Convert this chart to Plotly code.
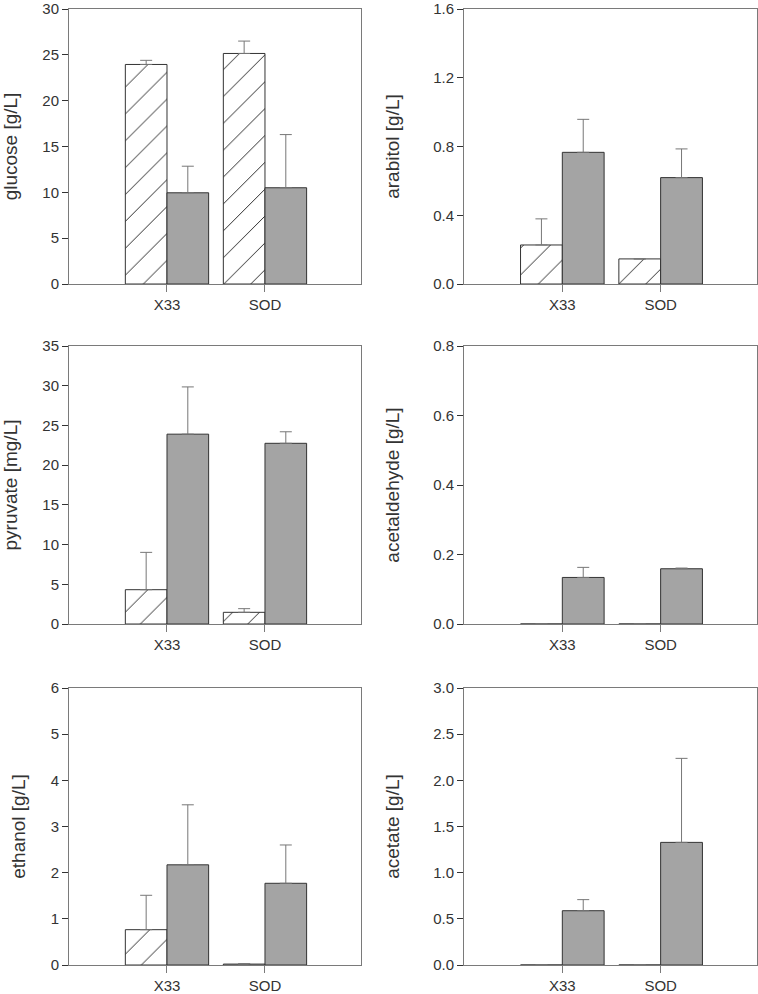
import plotly.graph_objects as go
from plotly.subplots import make_subplots

strains = ['X33', 'SOD']

# hatched bars (first series) and grey bars (second series), upper error only
glucose_a = [23.95, 25.15]
glucose_a_err = [0.45, 1.35]
glucose_b = [9.95, 10.5]
glucose_b_err = [2.9, 5.8]

arabitol_a = [0.227, 0.146]
arabitol_a_err = [0.152, 0.0]
arabitol_b = [0.766, 0.619]
arabitol_b_err = [0.192, 0.167]

pyruvate_a = [4.32, 1.47]
pyruvate_a_err = [4.7, 0.46]
pyruvate_b = [23.9, 22.75]
pyruvate_b_err = [5.95, 1.45]

acetaldehyde_a = [0.0, 0.0]
acetaldehyde_a_err = [0.0, 0.0]
acetaldehyde_b = [0.134, 0.159]
acetaldehyde_b_err = [0.029, 0.002]

ethanol_a = [0.765, 0.02]
ethanol_a_err = [0.745, 0.01]
ethanol_b = [2.17, 1.77]
ethanol_b_err = [1.3, 0.83]

acetate_a = [0.0, 0.0]
acetate_a_err = [0.0, 0.0]
acetate_b = [0.588, 1.328]
acetate_b_err = [0.12, 0.91]

panels = [
    ('glucose [g/L]', glucose_a, glucose_a_err, glucose_b, glucose_b_err, 30, 5, 'd'),
    ('arabitol [g/L]', arabitol_a, arabitol_a_err, arabitol_b, arabitol_b_err, 1.6, 0.4, '.1f'),
    ('pyruvate [mg/L]', pyruvate_a, pyruvate_a_err, pyruvate_b, pyruvate_b_err, 35, 5, 'd'),
    ('acetaldehyde [g/L]', acetaldehyde_a, acetaldehyde_a_err, acetaldehyde_b, acetaldehyde_b_err, 0.8, 0.2, '.1f'),
    ('ethanol [g/L]', ethanol_a, ethanol_a_err, ethanol_b, ethanol_b_err, 6, 1, 'd'),
    ('acetate [g/L]', acetate_a, acetate_a_err, acetate_b, acetate_b_err, 3.0, 0.5, '.1f'),
]

W, H = 758, 994
xdom = [[69 / W, 361 / W], [464 / W, 757 / W]]
ydom = [[1 - 284 / H, 1 - 9 / H], [1 - 624 / H, 1 - 346 / H], [1 - 965 / H, 1 - 688 / H]]
standoffs = [20, 28]

fig = make_subplots(rows=3, cols=2)

axcol = '#7a7a7a'
txtcol = '#333333'
errcol = '#777777'

for i, (title, a, aerr, b, berr, ymax, dt, fmt) in enumerate(panels):
    r = i // 2 + 1
    c = i % 2 + 1
    fig.add_trace(go.Bar(
        x=strains, y=a,
        marker=dict(color='white', line=dict(color='#333333', width=1),
                    pattern=dict(shape='/', fgcolor='#222222', bgcolor='white',
                                 fgopacity=1, size=19, solidity=0.05)),
        error_y=dict(type='data', symmetric=False, array=aerr,
                     arrayminus=[0] * len(aerr), color=errcol,
                     thickness=1, width=6),
        showlegend=False), row=r, col=c)
    fig.add_trace(go.Bar(
        x=strains, y=b,
        marker=dict(color='#a4a4a4', line=dict(color='#333333', width=1)),
        error_y=dict(type='data', symmetric=False, array=berr,
                     arrayminus=[0] * len(berr), color=errcol,
                     thickness=1, width=6),
        showlegend=False), row=r, col=c)
    fig.update_xaxes(domain=xdom[c - 1], range=[-1.0, 1.98], automargin=False,
                     showline=True, mirror=True, linecolor=axcol, linewidth=1,
                     ticks='outside', ticklen=7, tickcolor=axcol,
                     ticklabeloverflow='allow',
                     showgrid=False, zeroline=False,
                     tickfont=dict(size=15, color=txtcol),
                     row=r, col=c)
    fig.update_yaxes(domain=ydom[r - 1], range=[0, ymax], dtick=dt, tick0=0,
                     tickformat=fmt, automargin=False,
                     ticklabeloverflow='allow',
                     showline=True, mirror=True, linecolor=axcol, linewidth=1,
                     ticks='outside', ticklen=6, tickcolor=txtcol,
                     showgrid=False, zeroline=False,
                     tickfont=dict(size=15, color=txtcol),
                     title=dict(text=title, font=dict(size=19, color=txtcol),
                                standoff=standoffs[c - 1]),
                     row=r, col=c)

fig.update_layout(
    width=W, height=H,
    margin=dict(l=0, r=0, t=0, b=0),
    barmode='group', bargap=0.15, bargroupgap=0,
    plot_bgcolor='white', paper_bgcolor='white',
    font=dict(family='Liberation Sans, Arial, sans-serif', color=txtcol),
)

fig.write_html("out.html", config={'displayModeBar': False},
               post_script="document.body.style.margin='0';")
